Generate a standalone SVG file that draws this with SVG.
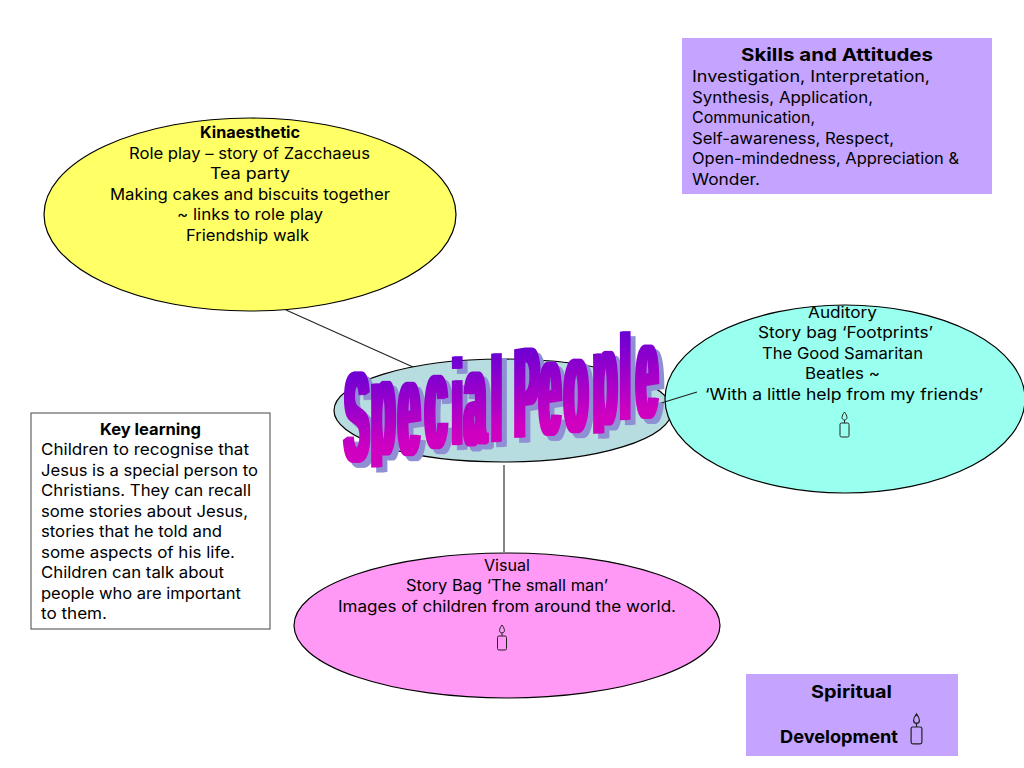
<svg xmlns="http://www.w3.org/2000/svg" width="1024" height="768" viewBox="0 0 1024 768">
<style>
text{font-family:Inter,"Noto Sans","DejaVu Sans",sans-serif;font-size:16px;fill:#000}
.b{font-weight:700}
.h{font-size:18px;font-weight:700}
.el{stroke:#000;stroke-width:1.2}
.ln{stroke:#222;stroke-width:1.1;fill:none}
.cd{fill:none;stroke:#222;stroke-width:1}
.wa{font-family:"Liberation Sans",sans-serif;font-size:136px;font-weight:700;fill:url(#wa)}
.t1{font-size:122px}
.t2{font-size:129px}
</style>
<defs>
<linearGradient id="wa" x1="0" y1="0" x2="0" y2="1">
<stop offset="0.1" stop-color="#4f00d8"/>
<stop offset="0.75" stop-color="#d000c0"/>
</linearGradient>
<filter id="wf" x="-5%" y="-10%" width="115%" height="125%" color-interpolation-filters="sRGB">
<feMorphology in="SourceGraphic" operator="dilate" radius="3 0.3" result="d"/>
<feFlood flood-color="#8f90d4"/>
<feComposite in2="d" operator="in"/>
<feOffset dx="5" dy="5" result="s"/>
<feMerge><feMergeNode in="s"/><feMergeNode in="d"/></feMerge>
</filter>
<clipPath id="wc"><polygon points="300,300 700,300 700,418 300,479"/></clipPath>
<g id="candle">
<rect class="cd" x="-4.5" y="0" width="9" height="14" rx="1.5"/>
<path class="cd" d="M0 -11C-3 -7 -3.5 -3.5 0 -3C3.500 -3.500 3 -7 0 -11ZM0 -3V0"/>
</g>
</defs>
<g id="connectors">
<line class="ln" x1="286" y1="310" x2="413" y2="367"/>
<line class="ln" x1="504" y1="465" x2="504" y2="552" stroke="#555"/>
</g>
<g id="node-kinaesthetic">
<ellipse class="el" cx="250" cy="214.500" rx="206" ry="96.500" fill="#ffff66"/>
<text class="b" x="200" y="138" textLength="100" lengthAdjust="spacingAndGlyphs">Kinaesthetic</text>
<text x="129" y="159" textLength="241" lengthAdjust="spacingAndGlyphs">Role play – story of Zacchaeus</text>
<text x="210" y="179" textLength="80" lengthAdjust="spacingAndGlyphs">Tea party</text>
<text x="110" y="200" textLength="280" lengthAdjust="spacingAndGlyphs">Making cakes and biscuits together</text>
<text x="177" y="220" textLength="146" lengthAdjust="spacingAndGlyphs">~ links to role play</text>
<text x="186" y="241" textLength="123" lengthAdjust="spacingAndGlyphs">Friendship walk</text>
</g>
<g id="node-skills">
<rect x="682" y="38" width="310" height="156" fill="#c4a4ff"/>
<text class="h" x="741" y="61" textLength="192" lengthAdjust="spacingAndGlyphs">Skills and Attitudes</text>
<text x="692" y="82" textLength="238" lengthAdjust="spacingAndGlyphs">Investigation, Interpretation,</text>
<text x="692" y="103" textLength="181" lengthAdjust="spacingAndGlyphs">Synthesis, Application,</text>
<text x="692" y="123" textLength="123" lengthAdjust="spacingAndGlyphs">Communication,</text>
<text x="692" y="144" textLength="202" lengthAdjust="spacingAndGlyphs">Self-awareness, Respect,</text>
<text x="692" y="164" textLength="267" lengthAdjust="spacingAndGlyphs">Open-mindedness, Appreciation &amp;</text>
<text x="692" y="185" textLength="68" lengthAdjust="spacingAndGlyphs">Wonder.</text>
</g>
<g id="node-center">
<ellipse class="el" cx="503" cy="410.500" rx="169" ry="51.500" fill="#b8dde0"/>
</g>
<g id="node-auditory">
<ellipse class="el" cx="845" cy="399" rx="180" ry="94" fill="#99ffee"/>
<text x="808" y="318" textLength="69" lengthAdjust="spacingAndGlyphs">Auditory</text>
<text x="758" y="338" textLength="175" lengthAdjust="spacingAndGlyphs">Story bag ‘Footprints’</text>
<text x="762" y="359" textLength="161" lengthAdjust="spacingAndGlyphs">The Good Samaritan</text>
<text x="805" y="379" textLength="75" lengthAdjust="spacingAndGlyphs">Beatles ~</text>
<text x="705" y="400" textLength="278" lengthAdjust="spacingAndGlyphs">‘With a little help from my friends’</text>
<use href="#candle" x="844.500" y="423"/>
</g>
<g id="connector-overlay">
<line class="ln" x1="658" y1="404" x2="697" y2="392"/>
</g>
<g id="node-visual">
<ellipse class="el" cx="507" cy="625.500" rx="213" ry="72.500" fill="#ff99f5"/>
<text x="484" y="571" textLength="46" lengthAdjust="spacingAndGlyphs">Visual</text>
<text x="406" y="591" textLength="202" lengthAdjust="spacingAndGlyphs">Story Bag ‘The small man’</text>
<text x="338" y="612" textLength="338" lengthAdjust="spacingAndGlyphs">Images of children from around the world.</text>
<use href="#candle" x="502" y="636"/>
</g>
<g id="node-key-learning">
<rect x="31" y="413" width="239" height="216" fill="#fff" stroke="#444" stroke-width="1"/>
<text class="b" x="100" y="435" textLength="101" lengthAdjust="spacingAndGlyphs">Key learning</text>
<text x="41" y="455" textLength="208" lengthAdjust="spacingAndGlyphs">Children to recognise that</text>
<text x="41" y="476" textLength="217" lengthAdjust="spacingAndGlyphs">Jesus is a special person to</text>
<text x="41" y="496" textLength="210" lengthAdjust="spacingAndGlyphs">Christians. They can recall</text>
<text x="41" y="517" textLength="207" lengthAdjust="spacingAndGlyphs">some stories about Jesus,</text>
<text x="41" y="537" textLength="181" lengthAdjust="spacingAndGlyphs">stories that he told and</text>
<text x="41" y="558" textLength="194" lengthAdjust="spacingAndGlyphs">some aspects of his life.</text>
<text x="41" y="578" textLength="183" lengthAdjust="spacingAndGlyphs">Children can talk about</text>
<text x="41" y="599" textLength="200" lengthAdjust="spacingAndGlyphs">people who are important</text>
<text x="41" y="619" textLength="66" lengthAdjust="spacingAndGlyphs">to them.</text>
</g>
<g id="node-spiritual">
<rect x="746" y="674" width="212" height="82" fill="#c4a4ff"/>
<text class="h" x="811" y="698" textLength="81" lengthAdjust="spacingAndGlyphs">Spiritual</text>
<text class="h" x="780" y="743" textLength="118" lengthAdjust="spacingAndGlyphs">Development</text>
<use href="#candle" transform="translate(916.500 727) scale(1.2 1.2)"/>
</g>
<g id="title" filter="url(#wf)">
<g clip-path="url(#wc)">
<text class="wa" transform="matrix(.28 -.0392 0 1 0 0)" x="1231 1327 1423 1520 1616 1659 1756 1813 1838 1927 2016 2120 2216 2273" y="511.600 508.300 512.300 509 508.800 511.200 511.400 505 510.400 511.900 512.500 509.400 507.400 508.400"><tspan class="t2">S</tspan>pec<tspan class="t1">i</tspan>a<tspan class="t1">l</tspan> <tspan class="t2">P</tspan>eop<tspan class="t1">l</tspan>e</text>
</g>
</g>
</svg>
